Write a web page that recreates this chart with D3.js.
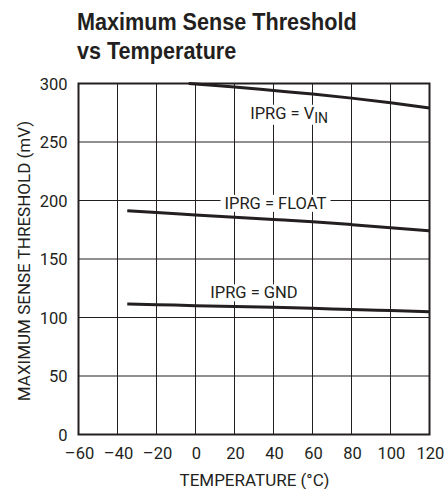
<!DOCTYPE html>
<html>
<head>
<meta charset="utf-8">
<script src="https://cdn.jsdelivr.net/npm/d3@7/dist/d3.min.js"></script>
<style>
  body { margin: 0; background: #fff; }
  svg { display: block; }
  text { fill: #231f20; font-family: Roboto, "Liberation Sans", sans-serif; }
  .title { font-family: "Liberation Sans", Arial, sans-serif; font-weight: bold; font-size: 24px; }
</style>
</head>
<body>
<svg id="chart" width="448" height="489"></svg>
<script>
// chart values
const xTicks = [-60, -40, -20, 0, 20, 40, 60, 80, 100, 120];
const yTicks = [0, 50, 100, 150, 200, 250, 300];

const vinTemp = [-3.5, 0, 20, 40, 60, 80, 100, 120];
const vinVal = [300, 299.5, 297, 294, 291, 287.5, 283.5, 279];

const floatTemp = [-35, -20, 0, 20, 40, 60, 80, 100, 120];
const floatVal = [191.3, 189.8, 187.6, 185.6, 183.8, 181.9, 179.4, 176.8, 174];

const gndTemp = [-35, -20, 0, 20, 40, 60, 80, 100, 120];
const gndVal = [111.6, 111, 110.1, 109.4, 108.7, 107.8, 106.8, 105.9, 105];

const curves = [
  { name: "IPRG = V", sub: "IN", temp: vinTemp, val: vinVal, lx: 48, ly: 275 },
  { name: "IPRG = FLOAT", sub: null, temp: floatTemp, val: floatVal, lx: 41, ly: 198 },
  { name: "IPRG = GND", sub: null, temp: gndTemp, val: gndVal, lx: 30, ly: 121.5 }
];

const margin = { top: 83.5, left: 78.5, right: 18.5, bottom: 54.5 };
const width = 448 - margin.left - margin.right;
const height = 489 - margin.top - margin.bottom;

const svg = d3.select("#chart");

// title (condensed look by squeezing horizontally)
svg.append("text").attr("class", "title")
  .attr("transform", "translate(77,30) scale(0.9,1)")
  .text("Maximum Sense Threshold");
svg.append("text").attr("class", "title")
  .attr("transform", "translate(77,59) scale(0.9,1)")
  .text("vs Temperature");

const g = svg.append("g").attr("transform", `translate(${margin.left},${margin.top})`);

const x = d3.scaleLinear().domain([-60, 120]).range([0, width]);
const y = d3.scaleLinear().domain([0, 300]).range([height, 0]);

// grid
g.append("g").selectAll("line")
  .data(xTicks.slice(1, -1))
  .join("line")
  .attr("x1", d => x(d)).attr("x2", d => x(d))
  .attr("y1", 0).attr("y2", height)
  .attr("stroke", "#231f20").attr("stroke-width", 1);

g.append("g").selectAll("line")
  .data(yTicks.slice(1, -1))
  .join("line")
  .attr("x1", 0).attr("x2", width)
  .attr("y1", d => y(d)).attr("y2", d => y(d))
  .attr("stroke", "#231f20").attr("stroke-width", 1);

// curve labels, white box behind to break the grid
curves.forEach(c => {
  const lab = g.append("text")
    .attr("x", x(c.lx)).attr("y", y(c.ly) + 6)
    .attr("text-anchor", "middle")
    .style("font-size", "16.5px");
  lab.append("tspan").text(c.name);
  if (c.sub) {
    lab.append("tspan").attr("dy", 4).style("font-size", "14px").text(c.sub);
  }
  const bb = lab.node().getBBox();
  g.insert("rect", "text")
    .attr("x", bb.x - 4).attr("y", bb.y + 1)
    .attr("width", bb.width + 8).attr("height", bb.height - 2)
    .attr("fill", "#fff");
});

// curves
curves.forEach(c => {
  g.append("path")
    .datum(c.temp.map((t, i) => [t, c.val[i]]))
    .attr("d", d3.line().curve(d3.curveMonotoneX).x(d => x(d[0])).y(d => y(d[1])))
    .attr("fill", "none")
    .attr("stroke", "#231f20")
    .attr("stroke-width", 3);
});

// frame
g.append("rect")
  .attr("width", width).attr("height", height)
  .attr("fill", "none").attr("stroke", "#231f20").attr("stroke-width", 2);

// tick labels
g.append("g").selectAll("text")
  .data(xTicks)
  .join("text")
  .attr("x", d => x(d) + 1).attr("y", height + 24)
  .attr("text-anchor", "middle")
  .style("font-size", "16.5px")
  .text(d => d < 0 ? "\u2013" + Math.abs(d) : d);

g.append("g").selectAll("text")
  .data(yTicks)
  .join("text")
  .attr("x", -11).attr("y", d => y(d) + 6)
  .attr("text-anchor", "end")
  .style("font-size", "16.5px")
  .text(d => d);

// axis titles
g.append("text")
  .attr("x", 176).attr("y", height + 51)
  .attr("text-anchor", "middle")
  .style("font-size", "17px")
  .text("TEMPERATURE (\u00b0C)");

g.append("text")
  .attr("transform", `translate(-48.5,177.5) rotate(-90)`)
  .attr("text-anchor", "middle")
  .style("font-size", "17px")
  .text("MAXIMUM SENSE THRESHOLD (mV)");
</script>
</body>
</html>
